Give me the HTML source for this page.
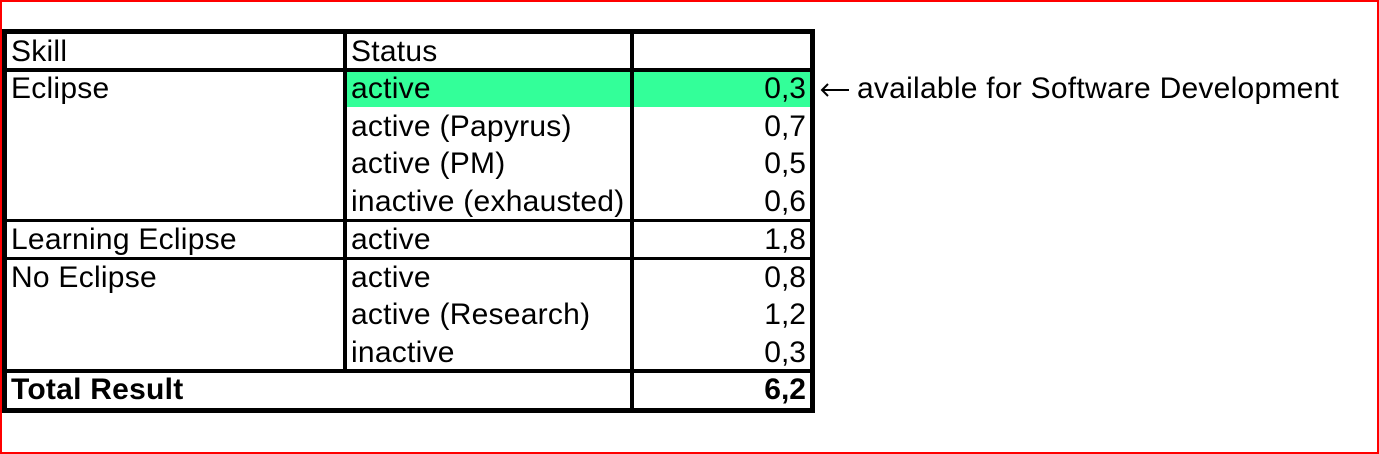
<!DOCTYPE html>
<html><head><meta charset="utf-8"><style>
html,body{margin:0;padding:0;background:#fff;}
#wrap{position:relative;width:1379px;height:454px;overflow:hidden;font-family:"Liberation Sans",Arial,sans-serif;}
.frame{position:absolute;left:0;top:0;width:1375px;height:450px;border:2px solid #f00;}
.ln{position:absolute;background:#000;}
.t{position:absolute;font-size:30px;letter-spacing:0.25px;line-height:37px;color:#000;white-space:nowrap;}
.r{text-align:right;letter-spacing:0;}
.g{position:absolute;background:#33ff99;}
</style></head><body>
<div id="wrap">
<div class="frame"></div>
<div class="g" style="left:347px;top:72px;width:463px;height:35px"></div>
<div class="ln" style="left:2px;top:29px;width:813px;height:5px"></div>
<div class="ln" style="left:2px;top:408px;width:813px;height:5px"></div>
<div class="ln" style="left:2px;top:29px;width:5px;height:384px"></div>
<div class="ln" style="left:810px;top:29px;width:5px;height:384px"></div>
<div class="ln" style="left:343px;top:29px;width:4px;height:341px"></div>
<div class="ln" style="left:630px;top:29px;width:4px;height:384px"></div>
<div class="ln" style="left:2px;top:68px;width:813px;height:4px"></div>
<div class="ln" style="left:2px;top:219px;width:813px;height:3px"></div>
<div class="ln" style="left:2px;top:257px;width:813px;height:3px"></div>
<div class="ln" style="left:2px;top:369px;width:813px;height:4px"></div>

<div class="t" style="left:11px;top:33px">Skill</div>
<div class="t" style="left:351px;top:33px">Status</div>

<div class="t" style="left:11px;top:70px">Eclipse</div>
<div class="t" style="left:351px;top:70px">active</div>
<div class="t r" style="left:640px;width:166px;top:70px">0,3</div>
<div class="t" style="left:351px;top:108px">active (Papyrus)</div>
<div class="t r" style="left:640px;width:166px;top:108px">0,7</div>
<div class="t" style="left:351px;top:145px">active (PM)</div>
<div class="t r" style="left:640px;width:166px;top:145px">0,5</div>
<div class="t" style="left:351px;top:183px">inactive (exhausted)</div>
<div class="t r" style="left:640px;width:166px;top:183px">0,6</div>

<div class="t" style="left:11px;top:221px">Learning Eclipse</div>
<div class="t" style="left:351px;top:221px">active</div>
<div class="t r" style="left:640px;width:166px;top:221px">1,8</div>

<div class="t" style="left:11px;top:259px">No Eclipse</div>
<div class="t" style="left:351px;top:259px">active</div>
<div class="t r" style="left:640px;width:166px;top:259px">0,8</div>
<div class="t" style="left:351px;top:296px">active (Research)</div>
<div class="t r" style="left:640px;width:166px;top:296px">1,2</div>
<div class="t" style="left:351px;top:334px">inactive</div>
<div class="t r" style="left:640px;width:166px;top:334px">0,3</div>

<div class="t" style="left:11px;top:371px;font-weight:bold">Total Result</div>
<div class="t r" style="left:640px;width:166px;top:371px;font-weight:bold">6,2</div>

<svg style="position:absolute;left:820px;top:80px" width="30" height="20"><line x1="2" y1="10" x2="29" y2="10" stroke="#000" stroke-width="2"/><polyline points="8,4 2,10 8,16" fill="none" stroke="#000" stroke-width="2"/></svg>
<div class="t" style="left:857px;top:70px">available for Software Development</div>
</div>
</body></html>
